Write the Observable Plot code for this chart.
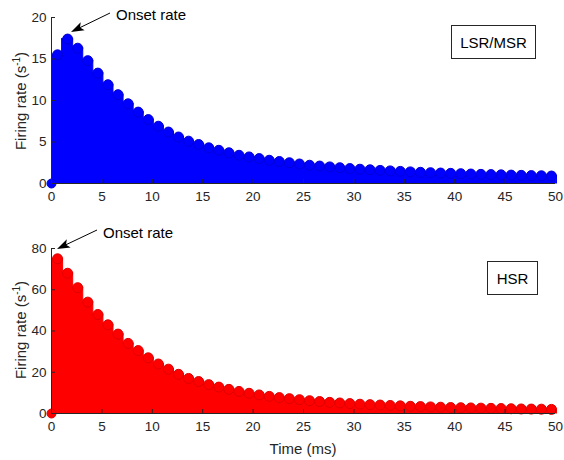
<!DOCTYPE html>
<html>
<head>
<meta charset="utf-8">
<script src="https://cdn.jsdelivr.net/npm/d3@7"></script>
<script src="https://cdn.jsdelivr.net/npm/@observablehq/plot@0.6"></script>
<style>
  html, body { margin: 0; padding: 0; background: #fff; }
  #wrap { position: relative; width: 564px; height: 460px; overflow: hidden; font-family: "Liberation Sans", Arial, sans-serif; }
  .ylab { position: absolute; font-size: 15px; color: #262626; white-space: nowrap; transform: translate(-50%, -50%) rotate(-90deg); }
  .ylab sup { font-size: 10px; vertical-align: 6px; line-height: 0; }
  .box { position: absolute; border: 1px solid #262626; background: #fff; font-size: 15px; color: #000; display: flex; align-items: center; justify-content: center; box-sizing: border-box; }
  .note { position: absolute; font-size: 15px; color: #000; white-space: nowrap; line-height: 1; }
</style>
</head>
<body>
<div id="wrap"></div>
<script>
// Peak times of each stimulus cycle (ms)
const peakTimes = [0.6,1.6,2.6,3.6,4.6,5.6,6.6,7.6,8.6,9.6,10.6,11.6,12.6,13.6,14.6,15.6,16.6,17.6,18.6,19.6,
  20.6,21.6,22.6,23.6,24.6,25.6,26.6,27.6,28.6,29.6,30.6,31.6,32.6,33.6,34.6,35.6,36.6,37.6,38.6,39.6,
  40.6,41.6,42.6,43.6,44.6,45.6,46.6,47.6,48.6,49.6];
// LSR/MSR peak firing rate per cycle (s^-1)
const lsrPeaks = [15.5,17.4,16.3,14.8,13.3,11.9,10.7,9.6,8.6,7.7,6.9,6.2,5.6,5.1,4.7,4.3,4.0,3.7,3.4,3.2,
  3.0,2.8,2.65,2.5,2.35,2.2,2.1,2.0,1.9,1.8,1.72,1.65,1.58,1.52,1.46,1.4,1.35,1.3,1.26,1.22,
  1.18,1.14,1.1,1.07,1.04,1.01,0.98,0.95,0.93,0.9];
// HSR peak firing rate per cycle (s^-1)
const hsrPeaks = [75,68,61,54,48,43,38.5,34,30.5,27,24,21.5,19,17,15.5,14,12.8,11.7,10.7,9.8,
  9.0,8.3,7.7,7.2,6.7,6.2,5.8,5.4,5.1,4.8,4.5,4.3,4.1,3.9,3.7,3.5,3.35,3.2,3.05,2.9,
  2.8,2.7,2.6,2.5,2.4,2.3,2.2,2.15,2.1,2.0];
// Onset sample (time, rate)
const onsetTime = [0];
const onsetRate = [0];
const xTicks = [0,5,10,15,20,25,30,35,40,45,50];
const lsrTicks = [0,5,10,15,20];
const hsrTicks = [0,20,40,60,80];

const lsrData = peakTimes.map((t, i) => ({t, v: lsrPeaks[i]}));
const hsrData = peakTimes.map((t, i) => ({t, v: hsrPeaks[i]}));
const onset = onsetTime.map((t, i) => ({t, v: onsetRate[i]}));

const axisColor = "#262626";
const W = 564, mL = 51, mR = 9;

function panel({data, yDomain, yTicks, height, mT, mB, fill, stroke}) {
  const innerH = height - mT - mB;
  const innerW = W - mL - mR;
  return Plot.plot({
    width: W, height, marginTop: mT, marginBottom: mB, marginLeft: mL, marginRight: mR,
    style: {fontFamily: "'Liberation Sans', Arial, sans-serif", fontSize: "13.5px", color: axisColor, background: "transparent", overflow: "visible"},
    x: {domain: [0, 50], ticks: xTicks, tickSize: 0, tickPadding: 8, label: null},
    y: {domain: yDomain, ticks: yTicks, tickSize: 0, tickPadding: 5, label: null},
    marks: [
      Plot.rect(data, {x1: d => d.t - 0.55, x2: d => d.t + 0.55, y1: () => 0, y2: "v", fill, stroke: fill, strokeWidth: 1}),
      Plot.dot(data, {x: "t", y: "v", r: 5, fill, stroke, strokeWidth: 1}),
      Plot.dot(onset, {x: "t", y: "v", r: 4.5, fill, stroke, strokeWidth: 1}),
      Plot.ruleX([0], {stroke: axisColor, strokeWidth: 1}),
      Plot.ruleY([0], {stroke: axisColor, strokeWidth: 1}),
      Plot.tickX(xTicks, {x: d => d, insetTop: innerH - 4, stroke: axisColor}),
      Plot.tickY(yTicks, {y: d => d, insetRight: innerW - 4, stroke: axisColor})
    ]
  });
}

const wrap = document.getElementById("wrap");

const topPanel = panel({data: lsrData, yDomain: [0, 20], yTicks: lsrTicks, height: 215, mT: 17, mB: 32, fill: "#0000ff", stroke: "#0000d8"});
topPanel.style.position = "absolute"; topPanel.style.left = "0px"; topPanel.style.top = "0px";
wrap.appendChild(topPanel);

const botPanel = panel({data: hsrData, yDomain: [0, 80], yTicks: hsrTicks, height: 245, mT: 33, mB: 47, fill: "#ff0000", stroke: "#e00000"});
botPanel.style.position = "absolute"; botPanel.style.left = "0px"; botPanel.style.top = "215px";
wrap.appendChild(botPanel);

function addDiv(cls, html, css) {
  const d = document.createElement("div");
  d.className = cls; d.innerHTML = html;
  Object.assign(d.style, css);
  wrap.appendChild(d);
  return d;
}
addDiv("ylab", "Firing rate (s<sup>-1</sup>)", {left: "20px", top: "101px"});
addDiv("ylab", "Firing rate (s<sup>-1</sup>)", {left: "20px", top: "330px"});
addDiv("note", "Time (ms)", {left: "303px", top: "448px", transform: "translate(-50%,-50%)", color: axisColor});
addDiv("box", "LSR/MSR", {left: "451px", top: "25px", width: "85px", height: "34px"});
addDiv("box", "HSR", {left: "487px", top: "261px", width: "51px", height: "34px"});
addDiv("note", "Onset rate", {left: "116px", top: "7px"});
addDiv("note", "Onset rate", {left: "103px", top: "225px"});

const svg = d3.select(wrap).append("svg")
  .attr("width", W).attr("height", 460)
  .style("position", "absolute").style("left", "0px").style("top", "0px").style("pointer-events", "none");
function arrow(x0, y0, x1, y1) {
  const ang = Math.atan2(y1 - y0, x1 - x0);
  const L = 13, Wd = 4.5, back = 10;
  const bx = x1 - L * Math.cos(ang), by = y1 - L * Math.sin(ang);
  const nx = -Math.sin(ang), ny = Math.cos(ang);
  const mx = x1 - back * Math.cos(ang), my = y1 - back * Math.sin(ang);
  svg.append("line").attr("x1", x0).attr("y1", y0).attr("x2", mx).attr("y2", my)
    .attr("stroke", "#000").attr("stroke-width", 1);
  svg.append("path")
    .attr("d", `M${x1},${y1} L${bx + nx * Wd},${by + ny * Wd} L${mx},${my} L${bx - nx * Wd},${by - ny * Wd} Z`)
    .attr("fill", "#000");
}
arrow(110, 13, 71, 32);
arrow(97, 230, 57, 249);
</script>
</body>
</html>
